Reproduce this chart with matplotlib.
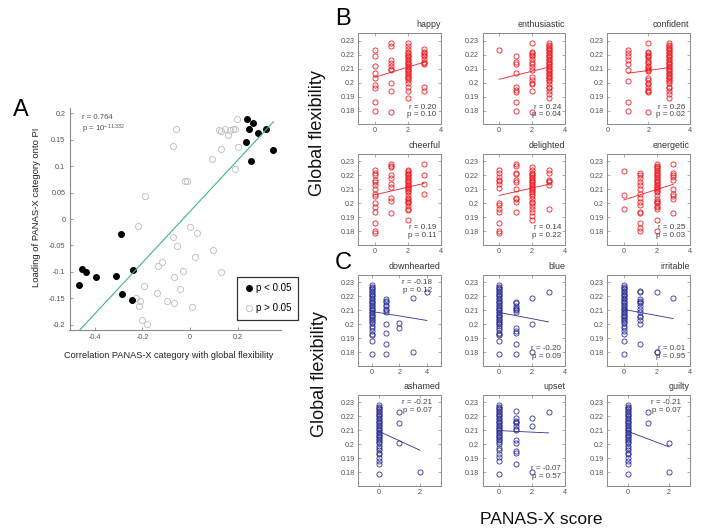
import numpy as np
import matplotlib.pyplot as plt
from matplotlib.lines import Line2D

plt.rcParams['font.family'] = ['Liberation Sans', 'DejaVu Sans']
plt.rcParams['mathtext.default'] = 'regular'

# Panel A: correlation of each PANAS-X category with global flexibility vs. its loading onto PI
sig_corr = [-0.467, -0.453, -0.438, -0.396, -0.312, -0.292, -0.285, -0.241, -0.244,
            0.241, 0.265, 0.250, 0.285, 0.320, 0.236, 0.351, 0.256]
sig_load = [-0.124, -0.095, -0.101, -0.110, -0.107, -0.029, -0.142, -0.096, -0.154,
            0.189, 0.182, 0.171, 0.162, 0.170, 0.145, 0.130, 0.109]
ns_corr = [0.199, -0.060, -0.073, 0.121, 0.131, 0.149, 0.167, 0.160, 0.182, 0.189,
           0.131, 0.203, 0.091, 0.188, -0.021, -0.014, -0.189, -0.218, 0.000, 0.028,
           -0.070, -0.056, 0.096, 0.021, -0.117, -0.136, -0.031, 0.129, -0.067, -0.195,
           -0.041, -0.140, -0.226, -0.211, -0.215, -0.096, -0.069, 0.007, -0.200, -0.182]
ns_load = [0.190, 0.170, 0.138, 0.168, 0.166, 0.171, 0.168, 0.159, 0.171, 0.171,
           0.133, 0.136, 0.114, 0.095, 0.072, 0.071, 0.043, -0.013, -0.015, -0.026,
           -0.034, -0.051, -0.059, -0.072, -0.081, -0.088, -0.099, -0.100, -0.109, -0.126,
           -0.132, -0.140, -0.149, -0.156, -0.164, -0.156, -0.159, -0.166, -0.191, -0.198]

# Panels B and C: global flexibility of each participant, grouped by PANAS-X item score
happy = {
    0: [0.223, 0.219, 0.212, 0.207, 0.203, 0.198, 0.196, 0.186, 0.180],
    1: [0.228, 0.226, 0.216, 0.214, 0.212, 0.210, 0.209, 0.200, 0.194, 0.179],
    2: [0.228, 0.226, 0.224, 0.222, 0.221, 0.220, 0.219, 0.218, 0.217, 0.216, 0.215,
        0.214, 0.213, 0.212, 0.211, 0.210, 0.209, 0.208, 0.207, 0.206, 0.205, 0.204,
        0.203, 0.202, 0.200, 0.197, 0.194, 0.189],
    3: [0.224, 0.222, 0.221, 0.220, 0.219, 0.217, 0.215, 0.214, 0.213, 0.197, 0.194],
}
enthusiastic = {
    0: [0.223],
    1: [0.219, 0.215, 0.213, 0.207, 0.197, 0.195, 0.193, 0.186, 0.180],
    2: [0.228, 0.222, 0.221, 0.220, 0.219, 0.217, 0.215, 0.213, 0.211, 0.209, 0.204,
        0.202, 0.200, 0.199, 0.194, 0.179],
    3: [0.228, 0.227, 0.226, 0.225, 0.224, 0.223, 0.222, 0.221, 0.220, 0.219, 0.218,
        0.217, 0.216, 0.215, 0.214, 0.213, 0.212, 0.211, 0.210, 0.209, 0.208, 0.207,
        0.206, 0.205, 0.204, 0.203, 0.202, 0.201, 0.199, 0.197, 0.196, 0.194, 0.192, 0.189],
}
confident = {
    1: [0.223, 0.221, 0.219, 0.216, 0.213, 0.209, 0.201, 0.186, 0.180],
    2: [0.228, 0.222, 0.221, 0.220, 0.219, 0.218, 0.216, 0.215, 0.214, 0.212, 0.211,
        0.210, 0.209, 0.208, 0.203, 0.202, 0.200, 0.199, 0.197, 0.195, 0.194, 0.193, 0.179],
    3: [0.228, 0.227, 0.226, 0.225, 0.224, 0.223, 0.222, 0.221, 0.220, 0.219, 0.218,
        0.217, 0.216, 0.215, 0.214, 0.213, 0.212, 0.211, 0.210, 0.209, 0.208, 0.207,
        0.206, 0.205, 0.204, 0.203, 0.202, 0.201, 0.200, 0.197, 0.196, 0.194, 0.192, 0.189],
}
cheerful = {
    0: [0.224, 0.222, 0.220, 0.217, 0.215, 0.213, 0.210, 0.207, 0.205, 0.200, 0.197,
        0.194, 0.186, 0.180, 0.179],
    1: [0.228, 0.227, 0.226, 0.220, 0.218, 0.214, 0.212, 0.204, 0.202, 0.193],
    2: [0.224, 0.223, 0.222, 0.221, 0.220, 0.219, 0.218, 0.217, 0.216, 0.215, 0.214,
        0.213, 0.212, 0.211, 0.210, 0.209, 0.208, 0.206, 0.204, 0.203, 0.202, 0.201,
        0.200, 0.198, 0.196, 0.195, 0.188],
    3: [0.228, 0.220, 0.214, 0.207],
}
delighted = {
    0: [0.224, 0.222, 0.219, 0.217, 0.216, 0.214, 0.211, 0.200, 0.199, 0.196, 0.194,
        0.186, 0.180, 0.179],
    1: [0.228, 0.227, 0.222, 0.221, 0.217, 0.215, 0.210, 0.204, 0.203, 0.201, 0.194],
    2: [0.226, 0.224, 0.222, 0.221, 0.220, 0.219, 0.218, 0.217, 0.216, 0.215, 0.214,
        0.213, 0.212, 0.211, 0.210, 0.209, 0.208, 0.207, 0.205, 0.203, 0.201, 0.200,
        0.198, 0.196, 0.194, 0.191, 0.188],
    3: [0.224, 0.222, 0.217, 0.216, 0.215, 0.213, 0.196],
}
energetic = {
    0: [0.223, 0.206, 0.196],
    1: [0.222, 0.220, 0.218, 0.215, 0.213, 0.210, 0.207, 0.204, 0.201, 0.199, 0.194,
        0.193, 0.186, 0.182, 0.180],
    2: [0.228, 0.227, 0.226, 0.225, 0.224, 0.223, 0.222, 0.221, 0.220, 0.219, 0.218,
        0.217, 0.216, 0.215, 0.214, 0.213, 0.212, 0.211, 0.210, 0.209, 0.208, 0.206,
        0.203, 0.202, 0.201, 0.200, 0.198, 0.197, 0.196, 0.188, 0.180],
    3: [0.228, 0.222, 0.220, 0.219, 0.217, 0.210, 0.207, 0.205, 0.203, 0.193],
}
downhearted = {
    0: [0.228, 0.227, 0.226, 0.225, 0.224, 0.223, 0.222, 0.221, 0.220, 0.219, 0.218,
        0.217, 0.216, 0.215, 0.214, 0.213, 0.212, 0.211, 0.210, 0.209, 0.208, 0.207,
        0.206, 0.205, 0.204, 0.203, 0.202, 0.201, 0.199, 0.197, 0.195, 0.193, 0.192,
        0.188, 0.179],
    1: [0.218, 0.217, 0.216, 0.214, 0.213, 0.211, 0.210, 0.209, 0.200, 0.194, 0.186, 0.179],
    2: [0.201, 0.197],
    3: [0.219, 0.180],
    4: [0.223],
}
blue = {
    0: [0.228, 0.227, 0.226, 0.225, 0.224, 0.223, 0.222, 0.221, 0.220, 0.219, 0.218,
        0.217, 0.216, 0.215, 0.214, 0.213, 0.212, 0.211, 0.210, 0.209, 0.208, 0.207,
        0.206, 0.205, 0.204, 0.203, 0.202, 0.201, 0.200, 0.199, 0.197, 0.196, 0.194,
        0.193, 0.192, 0.188, 0.179],
    1: [0.216, 0.215, 0.213, 0.212, 0.211, 0.210, 0.209, 0.197, 0.195, 0.194, 0.186, 0.179],
    2: [0.219, 0.200, 0.180],
    3: [0.223],
}
irritable = {
    0: [0.228, 0.227, 0.226, 0.225, 0.224, 0.223, 0.222, 0.221, 0.220, 0.219, 0.218,
        0.217, 0.216, 0.215, 0.214, 0.213, 0.212, 0.211, 0.210, 0.209, 0.208, 0.207,
        0.206, 0.205, 0.204, 0.203, 0.202, 0.201, 0.199, 0.197, 0.195, 0.193, 0.188, 0.179],
    1: [0.224, 0.223, 0.218, 0.217, 0.216, 0.215, 0.213, 0.211, 0.209, 0.206, 0.205,
        0.203, 0.200, 0.186],
    2: [0.223, 0.180, 0.180],
    3: [0.219],
}
ashamed = {
    0: [0.228, 0.227, 0.226, 0.225, 0.224, 0.223, 0.222, 0.221, 0.220, 0.219, 0.218,
        0.217, 0.216, 0.215, 0.214, 0.213, 0.212, 0.211, 0.210, 0.209, 0.208, 0.207,
        0.206, 0.205, 0.204, 0.203, 0.202, 0.201, 0.199, 0.197, 0.196, 0.194, 0.193,
        0.190, 0.188, 0.186, 0.179],
    1: [0.223, 0.215, 0.201],
    2: [0.180],
}
upset = {
    0: [0.228, 0.227, 0.226, 0.225, 0.224, 0.223, 0.222, 0.221, 0.220, 0.219, 0.218,
        0.217, 0.216, 0.215, 0.214, 0.213, 0.212, 0.211, 0.210, 0.209, 0.208, 0.207,
        0.206, 0.205, 0.204, 0.203, 0.202, 0.200, 0.197, 0.196, 0.193, 0.191, 0.188, 0.179],
    1: [0.224, 0.219, 0.217, 0.216, 0.215, 0.213, 0.211, 0.210, 0.203, 0.201, 0.195,
        0.194, 0.186],
    2: [0.219, 0.213, 0.180],
    3: [0.223],
}
guilty = {
    0: [0.228, 0.227, 0.226, 0.225, 0.224, 0.223, 0.222, 0.221, 0.220, 0.219, 0.218,
        0.217, 0.216, 0.215, 0.214, 0.213, 0.212, 0.211, 0.210, 0.209, 0.208, 0.207,
        0.206, 0.205, 0.204, 0.203, 0.202, 0.201, 0.199, 0.197, 0.196, 0.194, 0.193,
        0.190, 0.188, 0.186, 0.179],
    1: [0.223, 0.215],
    2: [0.201, 0.180],
}

# name, data, r, p, x-limits, where the stats go
positive_items = [
    ('happy', happy, '0.20', '0.10', (-1, 4), 'bottom'),
    ('enthusiastic', enthusiastic, '0.24', '0.04', (-1, 4), 'bottom'),
    ('confident', confident, '0.26', '0.02', (0, 4), 'bottom'),
    ('cheerful', cheerful, '0.19', '0.11', (-1, 4), 'bottom'),
    ('delighted', delighted, '0.14', '0.22', (-1, 4), 'bottom'),
    ('energetic', energetic, '0.25', '0.03', (-1, 4), 'bottom'),
]
negative_items = [
    ('downhearted', downhearted, '-0.18', '0.12', (-1, 5), 'top'),
    ('blue', blue, '-0.20', '0.09', (-1, 4), 'bottom'),
    ('irritable', irritable, '0.01', '0.95', (-1, 4), 'bottom'),
    ('ashamed', ashamed, '-0.21', '0.07', (-1, 3), 'top'),
    ('upset', upset, '-0.07', '0.57', (-1, 4), 'bottom'),
    ('guilty', guilty, '-0.21', '0.07', (-1, 3), 'top'),
]

RED = '#ed1c24'
BLUE = '#2e3192'
GRAY_SPINE = '#8a8a8a'
GRAY_TEXT = '#555555'

W, H = 708, 529
fig = plt.figure(figsize=(W / 100, H / 100), dpi=100)


def px_axes(left, top, width, height):
    # axes placed in pixel units measured from the top-left corner
    return fig.add_axes([left / W, 1 - (top + height) / H, width / W, height / H])


# ---------------- panel A ----------------
axA = px_axes(69.5, 108, 211.5, 222)
axA.plot(ns_corr, ns_load, 'o', mfc='none', mec='#c4c4c4', ms=4.4, mew=0.7)
axA.plot(sig_corr, sig_load, 'o', color='k', ms=4.0)

all_x = np.array(sig_corr + ns_corr)
all_y = np.array(sig_load + ns_load)
slope, icpt = np.polyfit(all_x, all_y, 1)
xx = np.array([all_x.min(), all_x.max()])
axA.plot(xx, slope * xx + icpt, color='#3cb878', lw=0.8)

axA.set_xlim(-0.507, 0.383)
axA.set_ylim(-0.21, 0.21)
axA.set_xticks([-0.4, -0.2, 0, 0.2])
axA.set_xticklabels(['-0.4', '-0.2', '0', '0.2'])
yt = [-0.2, -0.15, -0.1, -0.05, 0, 0.05, 0.1, 0.15, 0.2]
axA.set_yticks(yt)
axA.set_yticklabels(['-0.2', '-0.15', '-0.1', '-0.05', '0', '0.05', '0.1', '0.15', '0.2'])
for s in ['top', 'right']:
    axA.spines[s].set_visible(False)
for s in ['left', 'bottom']:
    axA.spines[s].set_color(GRAY_SPINE)
    axA.spines[s].set_linewidth(0.8)
axA.tick_params(direction='in', length=2.5, width=0.6, colors=GRAY_SPINE,
                labelcolor=GRAY_TEXT, labelsize=5.2, pad=3)

axA.text(0.059, 0.955, 'r = 0.764', transform=axA.transAxes, fontsize=5.6,
         color=GRAY_TEXT, va='center')
axA.text(0.059, 0.905, r'p = 10$^{-11.332}$', transform=axA.transAxes, fontsize=5.6,
         color=GRAY_TEXT, va='center')

handles = [Line2D([], [], marker='o', ls='none', color='k', ms=4.0),
           Line2D([], [], marker='o', ls='none', mfc='none', mec='#c4c4c4', ms=4.4, mew=0.7)]
leg = axA.legend(handles, ['p < 0.05', 'p > 0.05'], loc='lower left',
                 bbox_to_anchor=(0.79, 0.045), fontsize=7, frameon=True, fancybox=False,
                 edgecolor='k', borderpad=0.7, handletextpad=0.1, handlelength=1.2,
                 labelspacing=1.0, borderaxespad=0)
leg.get_frame().set_linewidth(0.9)
leg.set_zorder(5)

fig.text(13 / W, 1 - 116 / H, 'A', fontsize=17, va='baseline')
fig.text(37 / W, 1 - 207 / H, 'Loading of PANAS-X category onto PI', rotation=90,
         fontsize=6.8, ha='center', va='center', color='#222222')
fig.text(169 / W, 1 - 356 / H, 'Correlation PANAS-X category with global flexibility',
         fontsize=6.6, ha='center', va='center', color='#222222')


# ---------------- panels B and C ----------------
def small_panel(ax, name, data, r, p, xlim, where, color):
    xs, ys = [], []
    for score, vals in data.items():
        ax.plot([score] * len(vals), vals, 'o', mfc='none', mec=color, ms=3.7, mew=0.6)
        xs += [score] * len(vals)
        ys += vals
    xs = np.array(xs, dtype=float)
    ys = np.array(ys)
    b, a = np.polyfit(xs, ys, 1)
    line_x = np.array([xs.min(), xs.max()])
    ax.plot(line_x, a + b * line_x, color=color, lw=0.6)

    ax.set_xlim(*xlim)
    ax.set_ylim(0.1705, 0.2353)
    ax.set_xticks([t for t in (0, 2, 4) if xlim[0] <= t <= xlim[1]])
    ax.set_yticks([0.18, 0.19, 0.20, 0.21, 0.22, 0.23])
    ax.set_yticklabels(['0.18', '0.19', '0.2', '0.21', '0.22', '0.23'])
    for s in ax.spines.values():
        s.set_color(GRAY_SPINE)
        s.set_linewidth(0.7)
    ax.tick_params(direction='in', top=True, right=True, length=2, width=0.5,
                   colors=GRAY_SPINE, labelcolor=GRAY_TEXT, labelsize=5.2, pad=2.5)

    ax.text(1, 1.065, name, transform=ax.transAxes, ha='right', va='baseline',
            fontsize=6.4, color='#333333')
    if where == 'bottom':
        tx, ty1, ty2 = 0.95, 0.185, 0.10
    else:
        tx, ty1, ty2 = 0.90, 0.915, 0.83
    ax.text(tx, ty1, 'r = ' + r, transform=ax.transAxes, ha='right', va='center',
            fontsize=5.8, color='#444444')
    ax.text(tx, ty2, 'p = ' + p, transform=ax.transAxes, ha='right', va='center',
            fontsize=5.8, color='#444444')


col_left = [358.3, 482.7, 607.3]
row_top = [33.3, 154, 275, 395]
panel_w, panel_h = 82.3, 90.5

for i, item in enumerate(positive_items + negative_items):
    row, col = divmod(i, 3)
    ax = px_axes(col_left[col], row_top[row], panel_w, panel_h)
    small_panel(ax, *item, color=RED if row < 2 else BLUE)

fig.text(335 / W, 1 - 25 / H, 'B', fontsize=17, va='baseline')
fig.text(335 / W, 1 - 269 / H, 'C', fontsize=17, va='baseline')
fig.text(318 / W, 1 - 133 / H, 'Global flexibility', rotation=90, fontsize=13,
         ha='center', va='center', color='#111111')
fig.text(320 / W, 1 - 374 / H, 'Global flexibility', rotation=90, fontsize=13,
         ha='center', va='center', color='#111111')
fig.text(541 / W, 1 - 519 / H, 'PANAS-X score', fontsize=12.5, ha='center',
         va='center', color='#111111')

fig.savefig('out.png', dpi=100)
